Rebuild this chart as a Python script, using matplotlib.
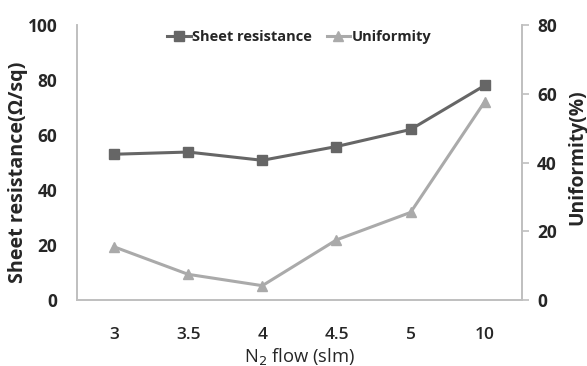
import numpy as np
import matplotlib.pyplot as plt

flow = ["3", "3.5", "4", "4.5", "5", "10"]
sheet_res = [53, 53.8, 50.8, 55.8, 62, 78]
uniformity = [15.5, 7.5, 4.2, 17.5, 25.5, 57.7]

dark = "#666666"
light = "#aaaaaa"
spine = "#bfbfbf"
txt = "#262626"

plt.rcParams['font.family'] = ['Open Sans', 'DejaVu Sans']

fig = plt.figure(figsize=(5.87, 3.66), dpi=100)
ax = fig.add_axes([0.131, 0.180, 0.758, 0.752])
ax2 = ax.twinx()

x = np.arange(len(flow))
l1, = ax.plot(x, sheet_res, color=dark, lw=2.2, marker="s", ms=7, label="Sheet resistance")
l2, = ax2.plot(x, uniformity, color=light, lw=2.2, marker="^", ms=7, label="Uniformity")

ax.set_xlim(-0.5, len(flow) - 0.5)
ax.set_ylim(0, 100)
ax2.set_ylim(0, 80)
ax.set_yticks([0, 20, 40, 60, 80, 100])
ax2.set_yticks([0, 20, 40, 60, 80])
ax.set_xticks(x)
ax.set_xticklabels(flow)

for a in (ax, ax2):
    a.spines['top'].set_visible(False)
    for s in ('left', 'right', 'bottom'):
        a.spines[s].set_color(spine)
        a.spines[s].set_linewidth(1.2)

ax.tick_params(axis='y', length=0, pad=14, labelsize=12.5, labelcolor=txt)
ax.tick_params(axis='x', length=0, pad=19, labelsize=12.5, labelcolor=txt)
ax2.tick_params(axis='y', length=5, width=1.2, color=spine, pad=6, labelsize=12.5, labelcolor=txt)
for lab in ax.get_yticklabels() + ax2.get_yticklabels():
    lab.set_fontweight('bold')
for lab in ax.get_xticklabels():
    lab.set_fontweight('semibold')

ylab = ax.set_ylabel("Sheet resistance(Ω/sq)", fontsize=11, fontweight='bold', color=txt)
ylab2 = ax2.set_ylabel("Uniformity(%)", fontsize=12, fontweight='bold', color=txt)
xlab = ax.set_xlabel("N$_2$ flow (slm)", fontsize=13, color=txt)

# size the axis titles to the lengths seen in the reference (pixels)
r = fig.canvas.get_renderer()
for t, target, along in ((ylab, 221, 'h'), (ylab2, 135, 'h'), (xlab, 111, 'w')):
    bb = t.get_window_extent(r)
    cur = bb.height if along == 'h' else bb.width
    t.set_fontsize(t.get_fontsize() * target / cur)

ax.yaxis.set_label_coords(-0.11, 0.465)
ax2.yaxis.set_label_coords(1.103, 0.52)
ax.xaxis.set_label_coords(0.5, -0.165)

leg = ax.legend(handles=[l1, l2], loc='upper center', bbox_to_anchor=(0.5, 1.03), ncol=2,
                frameon=False, handlelength=1.6, handletextpad=0.1, columnspacing=1.0,
                prop={'weight': 'bold', 'size': 10.5})
for t in leg.get_texts():
    t.set_color(txt)

fig.savefig("out.png", dpi=100)
